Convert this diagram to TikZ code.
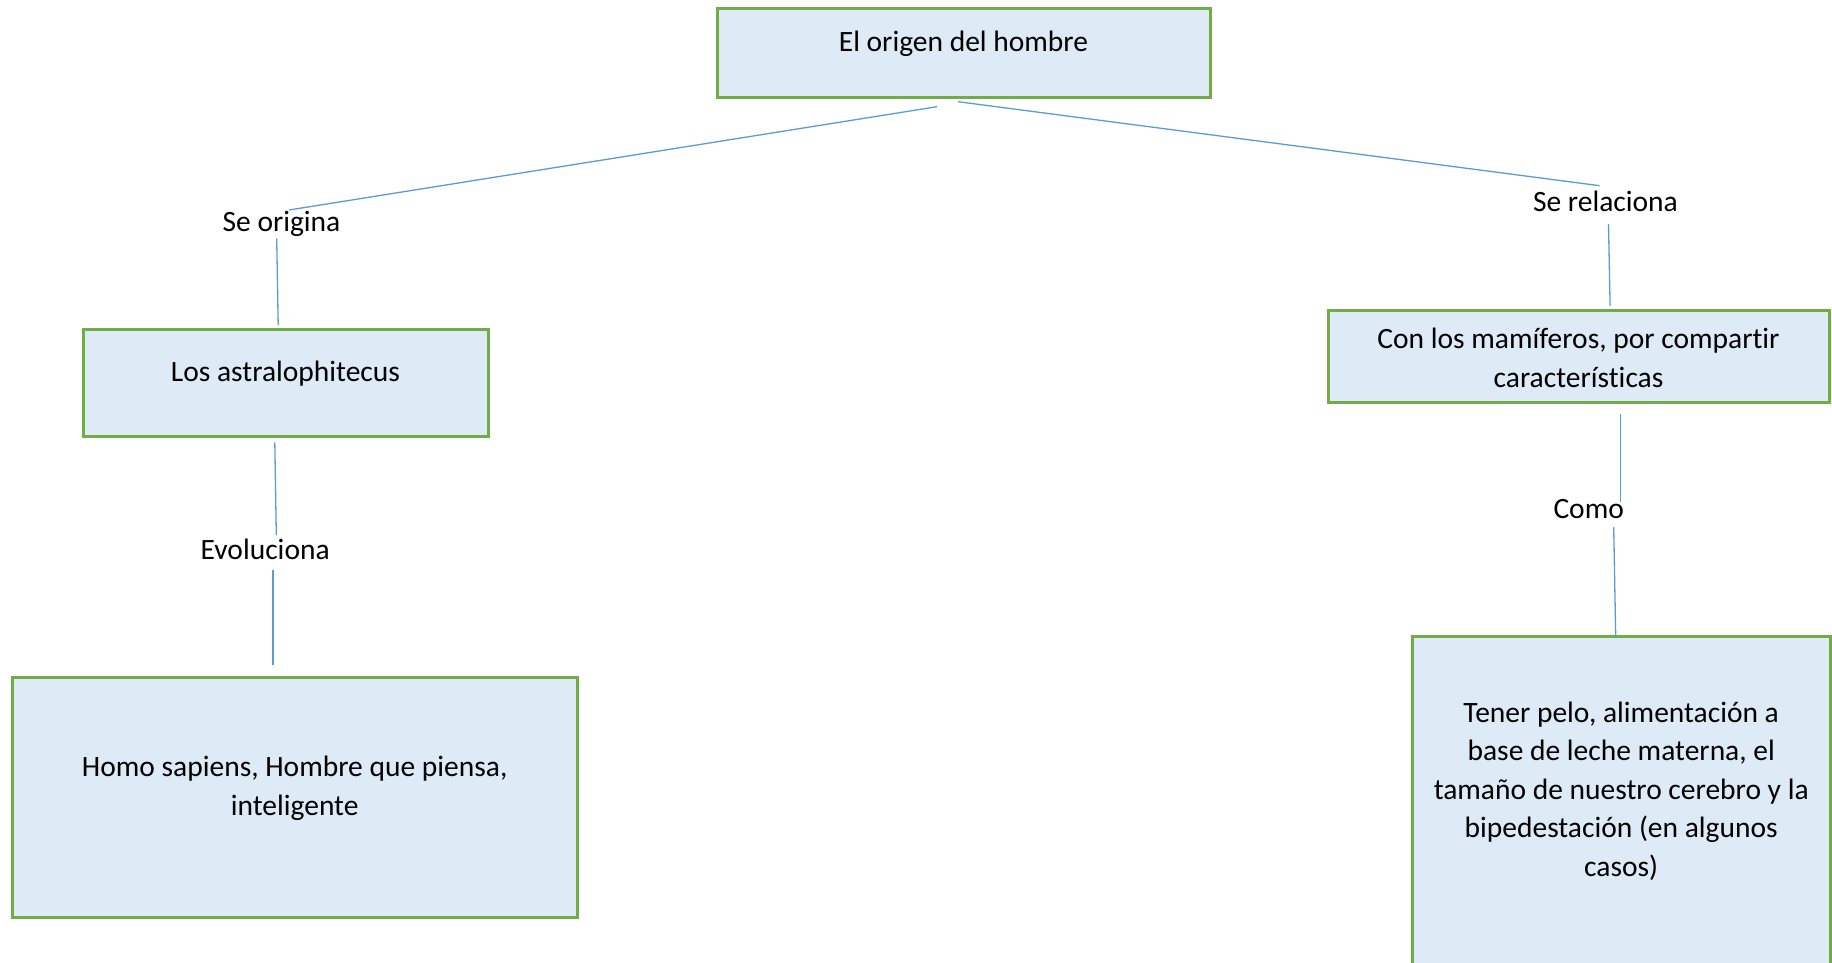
\documentclass[tikz,border=0pt]{standalone}
\usepackage{fontspec}
\setmainfont{Carlito}[Ligatures=NoCommon]
\usetikzlibrary{calc}
\definecolor{boxfill}{HTML}{DEEAF6}
\definecolor{boxline}{HTML}{70AD47}
\definecolor{connline}{HTML}{5B9BD5}
\begin{document}
\begin{tikzpicture}[x=1pt,y=-1pt,
  conceptbox/.style={draw=boxline,line width=3pt,fill=boxfill,inner sep=0pt,outer sep=0pt,rectangle},
  boxtext/.style={font=\fontsize{29.5}{38.5}\selectfont,align=center,anchor=base,inner sep=0pt},
  linktext/.style={font=\fontsize{29.5}{38.5}\selectfont,anchor=base,inner sep=0pt},
  conn/.style={draw=connline,line width=1.3pt}]
\useasboundingbox (0,0) rectangle (1832,962);
\clip (0,0) rectangle (1832,962);
% boxes
\node[conceptbox,minimum width=493pt,minimum height=89.4pt] (origen) at (963.5,53) {};
\node[conceptbox,minimum width=405.7pt,minimum height=107pt] (astra) at (285.9,383.2) {};
\node[conceptbox,minimum width=565.7pt,minimum height=240pt] (homo) at (295,797.3) {};
\node[conceptbox,minimum width=501.2pt,minimum height=91.6pt] (mamif) at (1578.8,356.5) {};
\node[conceptbox,minimum width=417.7pt,minimum height=343.4pt] (tener) at (1621.2,808.3) {};
% box texts (anchor base = baseline of the last line)
\node[boxtext] (torigen) at (963.5,51.7) {El origen del hombre};
\node[boxtext] (tastra) at (285.5,381.7) {Los astralophitecus};
\node[boxtext] (thomo) at (294.7,815) {Homo sapiens, Hombre que piensa,\\inteligente};
\node[boxtext] (tmamif) at (1578.5,387.3) {Con los mamíferos, por compartir\\características};
\node[boxtext] (ttener) at (1621.2,876) {Tener pelo, alimentación a\\base de leche materna, el\\tamaño de nuestro cerebro y la\\bipedestación (en algunos\\casos)};
% link texts
\node[linktext] (seorig) at (281.5,231.7) {Se origina};
\node[linktext] (evol) at (265.2,559.3) {Evoluciona};
\node[linktext] (serel) at (1605.4,211) {Se relaciona};
\node[linktext] (como) at (1588.7,518.3) {Como};
% connectors
\draw[conn] ($(origen.south)+(-26.5,9)$) -- ($(seorig.base)+(7.5,-21.7)$);
\draw[conn] ($(origen.south)+(-5.5,4)$) -- ($(serel.base)+(-5.8,-25.3)$);
\draw[conn] ($(seorig.base)+(-4.8,6.6)$) -- ($(astra.north)+(-7.7,-4.7)$);
\draw[conn] ($(astra.south)+(-11.1,5.6)$) -- ($(evol.base)+(11.1,-24.3)$);
\draw[conn] ($(evol.base)+(7.7,10.7)$) -- ($(homo.north)+(-22.1,-12.3)$);
\draw[conn] ($(serel.base)+(3.1,13)$) -- ($(mamif.north)+(31.3,-5)$);
\draw[conn] ($(mamif.south)+(41.9,12)$) -- ($(como.base)+(32,-16.1)$);
\draw[conn] ($(como.base)+(25,8.9)$) -- ($(tener.north)+(-5.5,0)$);
\end{tikzpicture}
\end{document}
